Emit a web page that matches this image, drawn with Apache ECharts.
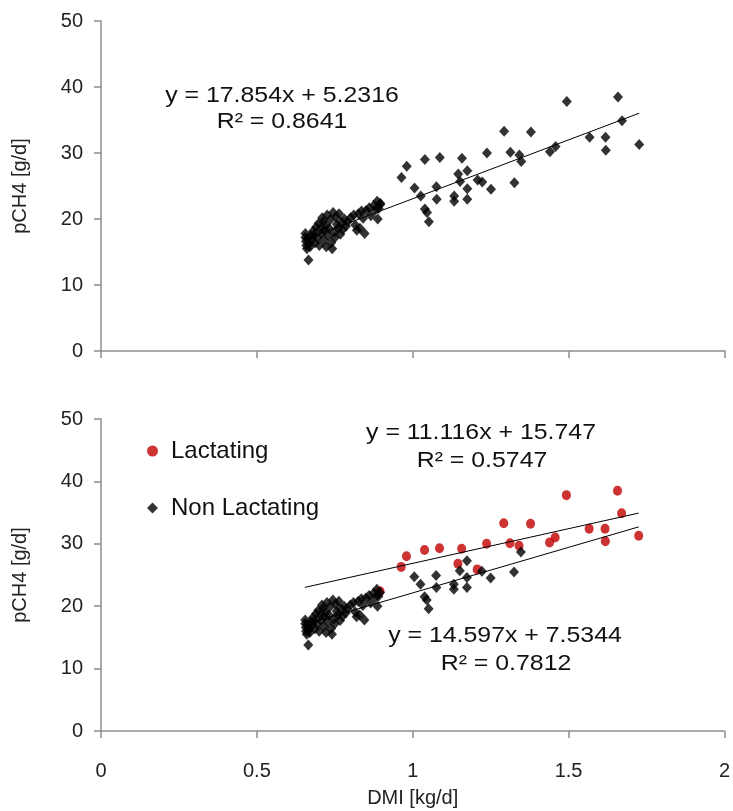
<!DOCTYPE html>
<html>
<head>
<meta charset="utf-8">
<script src="https://cdn.jsdelivr.net/npm/echarts@6/dist/echarts.min.js"></script>
<style>html,body{margin:0;padding:0;background:#fff}#c{width:733px;height:811px}</style>
</head>
<body>
<div id="c"></div>
<script>
// ---- data ----
const lactating = [
  [0.895,22.4],[0.963,26.3],[0.980,28.0],[1.038,29.0],[1.086,29.3],[1.157,29.2],[1.145,26.8],
  [1.207,25.9],[1.237,30.0],[1.292,33.3],[1.312,30.1],[1.341,29.7],[1.378,33.2],[1.439,30.2],
  [1.457,31.0],[1.493,37.8],[1.566,32.4],[1.617,32.4],[1.618,30.4],[1.657,38.5],[1.670,34.9],
  [1.725,31.3]
];
const nonLactating = [
  [0.655,17.8],[0.655,17.2],[0.657,16.6],[0.658,16.0],[0.660,15.5],[0.662,17.0],[0.665,13.8],
  [0.668,16.3],[0.670,15.8],[0.673,17.5],[0.676,16.9],[0.680,18.2],[0.683,17.6],[0.686,16.4],
  [0.690,18.8],[0.693,17.2],[0.697,19.3],[0.700,16.0],[0.703,18.5],[0.706,17.8],[0.709,20.2],
  [0.712,19.6],[0.714,16.8],[0.717,18.3],[0.720,19.0],[0.722,15.8],[0.725,20.6],[0.728,17.5],
  [0.731,18.6],[0.735,19.9],[0.738,16.4],[0.741,15.5],[0.744,21.0],[0.747,18.0],[0.750,17.2],
  [0.753,20.3],[0.756,19.2],[0.760,18.6],[0.763,20.8],[0.767,17.7],[0.771,19.5],[0.775,18.4],
  [0.780,20.0],[0.785,18.9],[0.790,19.6],[0.800,20.2],[0.810,20.6],[0.815,19.1],[0.820,18.3],
  [0.825,20.8],[0.830,18.6],[0.835,21.2],[0.840,20.1],[0.845,17.8],[0.850,21.3],[0.860,21.7],
  [0.865,20.5],[0.875,22.1],[0.880,21.4],[0.885,22.7],[0.887,20.0],[0.890,21.6],[0.895,22.2],
  [1.005,24.7],[1.025,23.5],[1.038,21.5],[1.045,21.0],[1.051,19.6],[1.075,24.9],[1.076,23.0],
  [1.132,23.5],[1.132,22.7],[1.151,25.7],[1.174,27.3],[1.174,24.6],[1.174,23.0],[1.222,25.6],
  [1.250,24.5],[1.325,25.5],[1.347,28.7]
];
const trendAll = [17.854, 5.2316];
const trendLact = [11.116, 15.747];
const trendNon = [14.597, 7.5344];
const trendRange = [0.654, 1.725];
const xTicks = [0, 0.5, 1, 1.5, 2];
const yTicks = [0, 10, 20, 30, 40, 50];
const eqTop = ['y = 17.854x + 5.2316', 'R\u00b2 = 0.8641'];
const eqLact = ['y = 11.116x + 15.747', 'R\u00b2 = 0.5747'];
const eqNon = ['y = 14.597x + 7.5344', 'R\u00b2 = 0.7812'];

function trendLine(t) {
  return trendRange.map(x => [x, t[0] * x + t[1]]);
}

const FONT = '"Liberation Sans", Arial, sans-serif';
const axisGray = '#8e8e8e';
const red = '#C00000';

function xAxisDef(idx, showLabels) {
  return {
    type: 'value', gridIndex: idx, min: xTicks[0], max: xTicks[xTicks.length - 1], interval: 0.5,
    axisLine: { show: true, lineStyle: { color: axisGray, width: 1.5 } },
    axisTick: { show: true, length: 7, lineStyle: { color: axisGray, width: 1.5 } },
    splitLine: { show: false },
    axisLabel: { show: showLabels, margin: 30, color: '#222', fontSize: 20, fontFamily: FONT },
    name: showLabels ? 'DMI [kg/d]' : '', nameLocation: 'middle', nameGap: 57,
    nameTextStyle: { color: '#222', fontSize: 20, fontFamily: FONT }
  };
}
function yAxisDef(idx) {
  return {
    type: 'value', gridIndex: idx, min: yTicks[0], max: yTicks[yTicks.length - 1], interval: 10,
    axisLine: { show: true, lineStyle: { color: axisGray, width: 1.5 } },
    axisTick: { show: true, length: 7, lineStyle: { color: axisGray, width: 1.5 } },
    splitLine: { show: false },
    axisLabel: { margin: 18, color: '#222', fontSize: 20, fontFamily: FONT },
    name: 'pCH4 [g/d]', nameLocation: 'middle', nameGap: 71, nameRotate: 90,
    nameTextStyle: { color: '#222', fontSize: 20, fontFamily: FONT }
  };
}
function txt(x, y, s) {
  return {
    type: 'text', x: x, y: y, scaleX: 1.13, scaleY: 1,
    style: { x: 0, y: 0, text: s, fill: '#111', font: '22px ' + FONT, textAlign: 'center', textVerticalAlign: 'middle' }
  };
}

const chart = echarts.init(document.getElementById('c'), null, { renderer: 'canvas' });
chart.setOption({
  animation: false,
  backgroundColor: '#fff',
  grid: [
    { left: 101, right: 8, top: 21, height: 330 },
    { left: 101, right: 8, top: 419, height: 312 }
  ],
  xAxis: [xAxisDef(0, false), xAxisDef(1, true)],
  yAxis: [yAxisDef(0), yAxisDef(1)],
  legend: {
    orient: 'vertical', left: 142, top: 434, itemGap: 33, itemWidth: 11, itemHeight: 11,
    textStyle: { color: '#111', fontSize: 24, fontFamily: FONT, padding: [0, 0, 0, 8] },
    data: [
      { name: 'Lactating', icon: 'circle' },
      { name: 'Non Lactating', icon: 'diamond' }
    ]
  },
  series: [
    { type: 'line', xAxisIndex: 0, yAxisIndex: 0, data: trendLine(trendAll), symbol: 'none',
      lineStyle: { color: '#000', width: 1 }, silent: true },
    { type: 'scatter', xAxisIndex: 0, yAxisIndex: 0, data: lactating.concat(nonLactating),
      symbol: 'diamond', symbolSize: [10, 11], itemStyle: { color: '#000' } },
    { type: 'line', xAxisIndex: 1, yAxisIndex: 1, data: trendLine(trendLact), symbol: 'none',
      lineStyle: { color: '#000', width: 1 }, silent: true },
    { type: 'line', xAxisIndex: 1, yAxisIndex: 1, data: trendLine(trendNon), symbol: 'none',
      lineStyle: { color: '#000', width: 1 }, silent: true },
    { name: 'Lactating', type: 'scatter', xAxisIndex: 1, yAxisIndex: 1, data: lactating,
      symbol: 'circle', symbolSize: [9, 10], itemStyle: { color: red } },
    { name: 'Non Lactating', type: 'scatter', xAxisIndex: 1, yAxisIndex: 1, data: nonLactating,
      symbol: 'diamond', symbolSize: [10, 11], itemStyle: { color: '#000' } }
  ],
  graphic: [
    txt(282, 96, eqTop[0]), txt(282, 122, eqTop[1]),
    txt(481, 433, eqLact[0]), txt(482, 461, eqLact[1]),
    txt(505, 636, eqNon[0]), txt(506, 664, eqNon[1])
  ]
});
</script>
</body>
</html>
